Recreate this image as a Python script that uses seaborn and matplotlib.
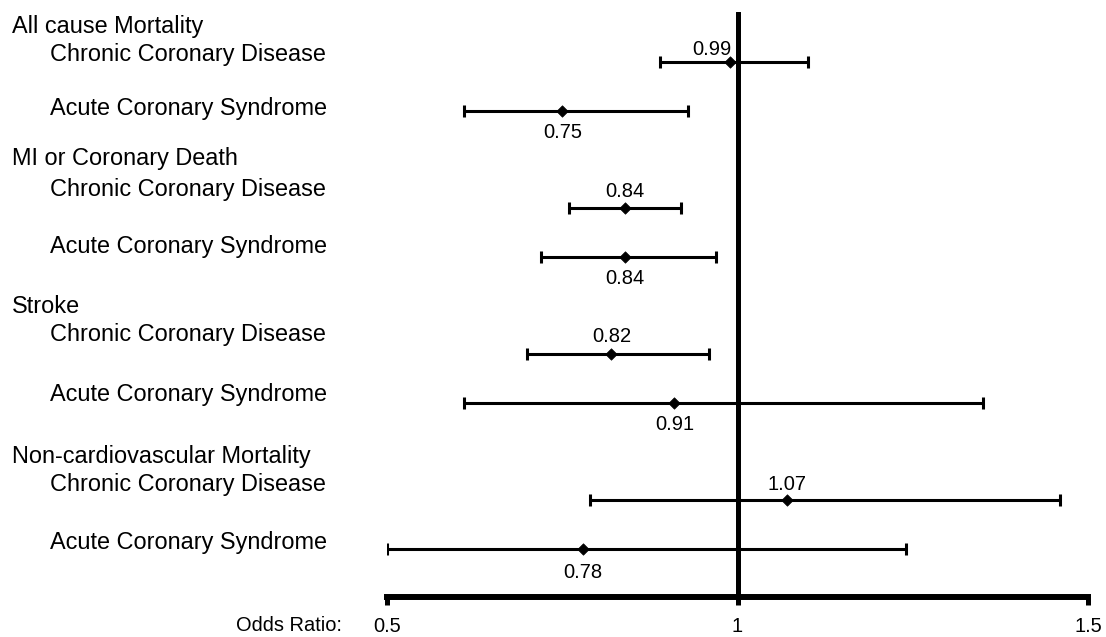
import numpy as np
import pandas as pd
import matplotlib
matplotlib.use("Agg")
import matplotlib.pyplot as plt
import seaborn as sns

# ---------------- data ----------------
groups = ["All cause Mortality", "MI or Coronary Death", "Stroke",
          "Non-cardiovascular Mortality"]
subgroups = ["Chronic Coronary Disease", "Acute Coronary Syndrome"]
odds_ratio = [0.99, 0.75, 0.84, 0.84, 0.82, 0.91, 1.07, 0.78]
ci_low = [0.89, 0.61, 0.76, 0.72, 0.70, 0.61, 0.79, 0.50]
ci_high = [1.10, 0.93, 0.92, 0.97, 0.96, 1.35, 1.46, 1.24]
value_labels = ["0.99", "0.75", "0.84", "0.84", "0.82", "0.91", "1.07", "0.78"]
x_ticks = [0.5, 1, 1.5]
x_tick_labels = ["0.5", "1", "1.5"]
axis_label = "Odds Ratio:"

# ---------------- layout (pixels) ----------------
W, H, DPI = 1106, 637, 100
AX_LEFT, AX_RIGHT, AX_TOP, AX_BOTTOM = 387, 1088, 12, 597
# value label offsets in pixels (dx, dy: +dy is downward)
VAL_DX = [-19, 0, 0, 0, 0, 0, 0, 0]
VAL_DY = [-14.5, 19.5, -19, 20, -20, 20, -17.5, 22]
HEADER_X, SUB_X = 12, 50
HEADER_Y = [26, 159, 307, 456]
SUB_Y = [[54, 109], [189, 246], [335, 394], [485, 543]]

df = pd.DataFrame({
    "group": np.repeat(groups, len(subgroups)),
    "subgroup": subgroups * len(groups),
    "or": odds_ratio,
    "lo": ci_low,
    "hi": ci_high,
})
gi = np.repeat(np.arange(len(groups)), len(subgroups))
si = np.tile(np.arange(len(subgroups)), len(groups))
df["pos"] = gi * 3 + si

sns.set_theme(style="white")
plt.rcParams["font.family"] = ["Liberation Sans", "DejaVu Sans"]

fig = plt.figure(figsize=(W / DPI, H / DPI), dpi=DPI)
ax = fig.add_axes([AX_LEFT / W, 1 - AX_BOTTOM / H,
                   (AX_RIGHT - AX_LEFT) / W, (AX_BOTTOM - AX_TOP) / H])

ax.errorbar(df["or"], df["pos"],
            xerr=[df["or"] - df["lo"], df["hi"] - df["or"]],
            fmt="none", ecolor="black", elinewidth=2.2,
            capsize=4.3, capthick=2.2, zorder=2)
ax.axvline(1, color="black", lw=3.6, zorder=2.5)
sns.scatterplot(data=df, x="or", y="pos", marker="D", s=34, color="black",
                edgecolor="black", linewidth=0.5, ax=ax, zorder=3, legend=False)

for i, row in df.iterrows():
    ax.annotate(value_labels[i], (row["or"], row["pos"]),
                xytext=(VAL_DX[i], -VAL_DY[i] - 2), textcoords="offset pixels",
                ha="center", va="center", fontsize=14.5, color="black")

ax.set_xlim(0.5, 1.5)
ax.set_ylim(10.99, -1.027)
ax.set_xticks(x_ticks, x_tick_labels)
ax.set_yticks([])
ax.set_xlabel("")
ax.set_ylabel("")
for s in ["left", "top", "right"]:
    ax.spines[s].set_visible(False)
ax.spines["bottom"].set_linewidth(4.3)
ax.spines["bottom"].set_color("black")
ax.tick_params(axis="x", length=5.8, width=3.6, direction="out", pad=8.5,
               labelsize=14.4, colors="black", bottom=True)

for g, name in enumerate(groups):
    fig.text(HEADER_X / W, 1 - HEADER_Y[g] / H, name, ha="left", va="center",
             fontsize=16.9, color="black")
    for s, sub in enumerate(subgroups):
        fig.text(SUB_X / W, 1 - SUB_Y[g][s] / H, sub, ha="left", va="center",
                 fontsize=16.9, color="black")

fig.text(342 / W, 1 - 631 / H, axis_label, ha="right", va="baseline",
         fontsize=14.4, color="black")

fig.savefig("out.png", dpi=DPI)
